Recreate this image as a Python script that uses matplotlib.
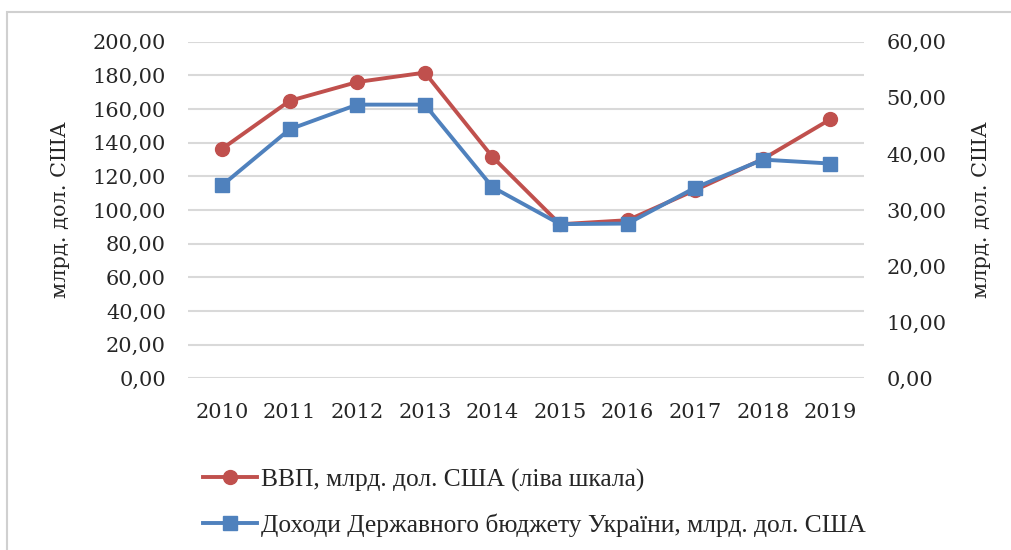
import matplotlib.pyplot as plt
from matplotlib.lines import Line2D
from matplotlib.patches import Rectangle

years = ['2010', '2011', '2012', '2013', '2014', '2015', '2016', '2017', '2018', '2019']
gdp = [136.4, 164.9, 176.1, 181.7, 131.6, 91.6, 94.0, 111.9, 130.3, 154.0]
budget = [34.4, 44.4, 48.8, 48.8, 34.1, 27.5, 27.6, 34.0, 39.0, 38.3]

left_ticks = [0, 20, 40, 60, 80, 100, 120, 140, 160, 180, 200]
right_ticks = [0, 10, 20, 30, 40, 50, 60]
unit = 'млрд. дол. США'
gdp_label = 'ВВП, млрд. дол. США (ліва шкала)'
budget_label = 'Доходи Державного бюджету України, млрд. дол. США'

red = '#C0504D'
blue = '#4F81BD'
grid_color = '#D9D9D9'
text_color = '#262626'

plt.rcParams['font.family'] = ['DejaVu Serif']

fig = plt.figure(figsize=(10.12, 5.5), dpi=100)
fig.patches.append(Rectangle((7 / 1012, -0.1), 1.2, 1 - 12 / 550 + 0.1,
                             transform=fig.transFigure, fill=False,
                             edgecolor='#D0D0D0', linewidth=1.5))

ax = fig.add_axes([0.186, 0.312, 0.668, 0.612])
ax2 = ax.twinx()

x = list(range(len(years)))
ax.plot(x, gdp, color=red, linewidth=2.8, marker='o', markersize=10, zorder=3)
ax2.plot(x, budget, color=blue, linewidth=2.8, marker='s', markersize=10, zorder=3)

ax.set_xlim(-0.5, len(years) - 0.5)
ax.set_ylim(0, 200)
ax2.set_ylim(0, 60)
ax.set_yticks(left_ticks)
ax.set_yticklabels([f'{v:.2f}'.replace('.', ',') for v in left_ticks])
ax2.set_yticks(right_ticks)
ax2.set_yticklabels([f'{v:.2f}'.replace('.', ',') for v in right_ticks])
ax.set_xticks(x)
ax.set_xticklabels(years)

for a in (ax, ax2):
    for s in a.spines.values():
        s.set_visible(False)
    a.tick_params(length=0, labelsize=15, colors=text_color)
ax.tick_params(axis='y', pad=16)
ax2.tick_params(axis='y', pad=16)
ax.tick_params(axis='x', pad=18)

ax.grid(axis='y', color=grid_color, linewidth=1.5)
ax.set_axisbelow(True)

ax.set_ylabel(unit, fontsize=15, color=text_color, labelpad=16)
ax2.set_ylabel(unit, fontsize=15, color=text_color, labelpad=18)

handles = [Line2D([], [], color=red, linewidth=2.8, marker='o', markersize=10),
           Line2D([], [], color=blue, linewidth=2.8, marker='s', markersize=10)]
fig.legend(handles, [gdp_label, budget_label], loc='upper left',
           bbox_to_anchor=(0.178, 0.19), frameon=False, handlelength=2.1,
           handletextpad=0.15, labelspacing=0.85,
           prop={'family': 'Liberation Serif', 'size': 18.4}, labelcolor=text_color)

fig.savefig('out.png', dpi=100)
